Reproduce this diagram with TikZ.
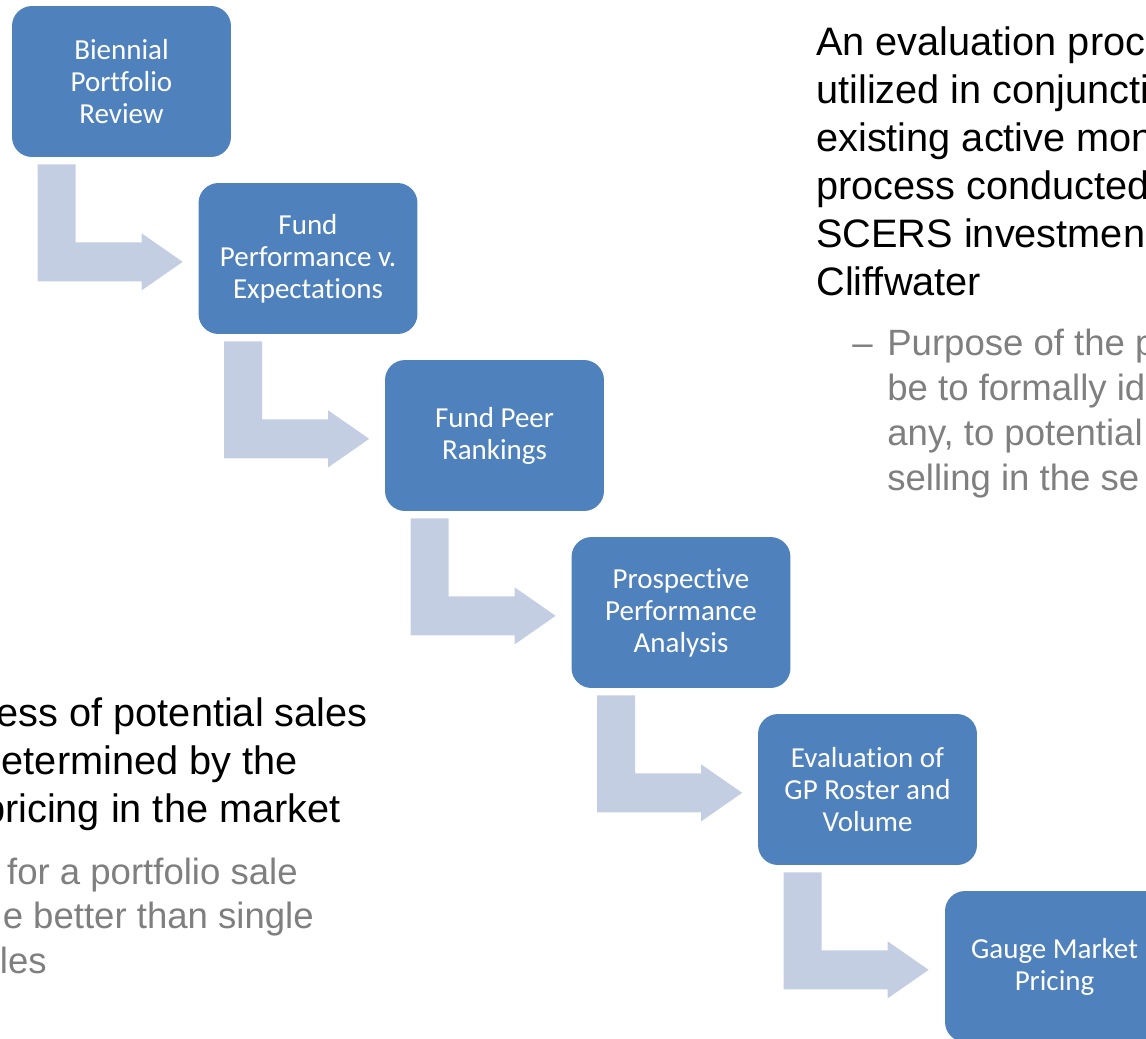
\documentclass[tikz,border=0pt]{standalone}
\usepackage{fontspec}
\setmainfont{Liberation Sans}[Ligatures={TeX,NoCommon}]
\newfontfamily\boxfont{Carlito}[Ligatures=NoCommon]
\usetikzlibrary{calc}

\definecolor{stepblue}{RGB}{79,129,189}
\definecolor{flowgray}{RGB}{196,206,227}
\definecolor{subgray}{RGB}{127,127,127}

\begin{document}
\begin{tikzpicture}[x=0.02cm,y=-0.02cm,
		stepbox/.style={fill=stepblue,rounded corners=0.4cm,minimum width=4.38cm,minimum height=3.02cm,inner sep=2pt,align=center,text=white,font=\boxfont\fontsize{16.5}{18.2}\selectfont},
		flow/.style={fill=flowgray},
		body/.style={inner sep=0pt,font=\fontsize{22.6}{27.3}\selectfont},
		sub/.style={inner sep=0pt,text=subgray,font=\fontsize{20.8}{25.3}\selectfont}]
		\useasboundingbox (0,0) rectangle (1146,1038);
		\node[stepbox] (s1) at (121.5,81.5) {Biennial\\Portfolio\\Review};
		\node[stepbox] (s2) at (308,258.5) {Fund\\Performance v.\\Expectations};
		\node[stepbox] (s3) at (494.5,435.5) {Fund Peer\\Rankings};
		\node[stepbox] (s4) at (681,612.5) {Prospective\\Performance\\Analysis};
		\node[stepbox] (s5) at (867.5,789.5) {Evaluation of\\GP Roster and\\Volume};
		\node[stepbox] (s6) at (1054.5,966.5) {Gauge Market\\Pricing};
		\foreach \a in {s1,s2,s3,s4,s5}
			\fill[flow] ($(\a.south west)+(26,7)$) -- ++(38,0) -- ++(0,78) -- ++(66,0) -- ++(0,-9)
				-- ++(41,28.5) -- ++(-41,28.5) -- ++(0,-9) -- ++(-104,0) -- cycle;
		\foreach \t [count=\i from 0] in {An evaluation proc,utilized in conjuncti,existing active mon,process conducted,SCERS investmen,Cliffwater}
			\node[body,anchor=base west] (ev\i) at (816,55+48*\i) {\t};
		\node[sub,anchor=base west] (dash) at (852,355) {–};
		\foreach \t [count=\i from 0] in {Purpose of the p,be to formally id,{any, to potential},selling in the se}
			\node[sub,anchor=base west] (pu\i) at (887,355+45*\i) {\t};
		\foreach \t/\e [count=\i from 0] in {ess of potential sales/368,etermined by the/298,pricing in the market/341}
			\node[body,anchor=base east] (ps\i) at (\e,726+48*\i) {\t};
		\foreach \t/\e [count=\i from 0] in {for a portfolio sale/298,e better than single/314,les/47}
			\node[sub,anchor=base east] (pf\i) at (\e,884+44.5*\i) {\t};
	\end{tikzpicture}
\end{document}
